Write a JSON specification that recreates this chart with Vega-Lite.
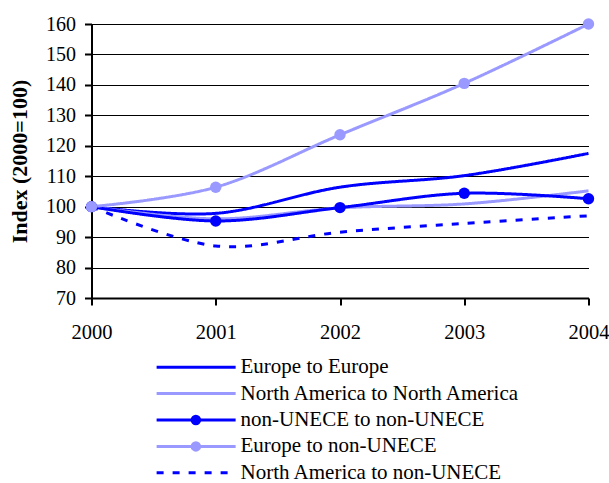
{
  "$schema": "https://vega.github.io/schema/vega-lite/v6.json",
  "padding": {"left": 8.5, "top": 14, "right": 5, "bottom": 5},
  "background": "white",
  "spacing": 11,
  "config": {
    "view": {"stroke": null},
    "font": "Liberation Serif",
    "axis": {"labelColor": "#000", "titleColor": "#000", "labelFont": "Liberation Serif", "titleFont": "Liberation Serif", "labelOverlap": false},
    "axisY": {"labelOverlap": false}
  },
  "resolve": {"scale": {"x": "independent", "y": "independent"}},
  "datasets": {
    "trade": [
      {"year": 2000, "series": "North America to non-UNECE", "value": 100},
      {"year": 2001, "series": "North America to non-UNECE", "value": 87.1},
      {"year": 2002, "series": "North America to non-UNECE", "value": 91.6},
      {"year": 2003, "series": "North America to non-UNECE", "value": 94.5},
      {"year": 2004, "series": "North America to non-UNECE", "value": 97.0},
      {"year": 2000, "series": "Europe to Europe", "value": 100},
      {"year": 2001, "series": "Europe to Europe", "value": 97.8},
      {"year": 2002, "series": "Europe to Europe", "value": 106.4},
      {"year": 2003, "series": "Europe to Europe", "value": 110.2},
      {"year": 2004, "series": "Europe to Europe", "value": 117.5},
      {"year": 2000, "series": "North America to North America", "value": 100},
      {"year": 2001, "series": "North America to North America", "value": 96.0},
      {"year": 2002, "series": "North America to North America", "value": 99.6},
      {"year": 2003, "series": "North America to North America", "value": 100.9},
      {"year": 2004, "series": "North America to North America", "value": 105.2},
      {"year": 2000, "series": "non-UNECE to non-UNECE", "value": 100},
      {"year": 2001, "series": "non-UNECE to non-UNECE", "value": 95.3},
      {"year": 2002, "series": "non-UNECE to non-UNECE", "value": 99.7},
      {"year": 2003, "series": "non-UNECE to non-UNECE", "value": 104.4},
      {"year": 2004, "series": "non-UNECE to non-UNECE", "value": 102.6},
      {"year": 2000, "series": "Europe to non-UNECE", "value": 100},
      {"year": 2001, "series": "Europe to non-UNECE", "value": 106.4},
      {"year": 2002, "series": "Europe to non-UNECE", "value": 123.6},
      {"year": 2003, "series": "Europe to non-UNECE", "value": 140.5},
      {"year": 2004, "series": "Europe to non-UNECE", "value": 160}
    ],
    "series": [
      {"series": "Europe to Europe"},
      {"series": "North America to North America"},
      {"series": "non-UNECE to non-UNECE"},
      {"series": "Europe to non-UNECE"},
      {"series": "North America to non-UNECE"}
    ]
  },
  "vconcat": [
    {
      "width": 497,
      "height": 274,
      "data": {"name": "trade"},
      "encoding": {
        "x": {
          "field": "year", "type": "quantitative",
          "scale": {"domain": [2000, 2004]},
          "axis": {
            "values": [2000, 2001, 2002, 2003, 2004], "format": "d", "title": null,
            "grid": false, "domainColor": "#000", "domainWidth": 2,
            "tickColor": "#000", "tickWidth": 2, "tickSize": 7,
            "labelFont": "Liberation Serif", "labelFontSize": 20.5, "labelPadding": 17, "labelFlush": false,
            "labelOverlap": false, "labelBound": false
          }
        },
        "y": {
          "field": "value", "type": "quantitative",
          "scale": {"domain": [70, 160], "nice": false, "zero": false},
          "axis": {
            "values": [70, 80, 90, 100, 110, 120, 130, 140, 150, 160],
            "title": "Index (2000=100)", "titleFont": "Liberation Serif", "titleFontSize": 22, "titleFontWeight": "bold",
            "titlePadding": 14,
            "grid": true, "gridColor": "#000", "gridWidth": 1,
            "domainColor": "#000", "domainWidth": 2,
            "tickColor": "#000", "tickWidth": 2, "tickSize": 7,
            "labelFont": "Liberation Serif", "labelFontSize": 20, "labelPadding": 9, "labelOverlap": false, "labelSeparation": 0
          }
        },
        "color": {
          "field": "series", "type": "nominal", "legend": null,
          "scale": {
            "domain": ["Europe to Europe", "North America to North America", "non-UNECE to non-UNECE", "Europe to non-UNECE", "North America to non-UNECE"],
            "range": ["#0000ff", "#9999ff", "#0000ff", "#9999ff", "#0000ff"]
          }
        }
      },
      "layer": [
        {
          "mark": {"type": "line", "interpolate": "cardinal", "strokeWidth": 3},
          "encoding": {
            "strokeDash": {
              "field": "series", "type": "nominal", "legend": null,
              "scale": {
                "domain": ["Europe to Europe", "North America to North America", "non-UNECE to non-UNECE", "Europe to non-UNECE", "North America to non-UNECE"],
                "range": [[1, 0], [1, 0], [1, 0], [1, 0], [7, 9]]
              }
            }
          }
        },
        {
          "transform": [{"filter": {"field": "series", "oneOf": ["non-UNECE to non-UNECE", "Europe to non-UNECE"]}}],
          "mark": {"type": "point", "filled": true, "size": 130, "opacity": 1}
        }
      ]
    },
    {
      "width": 497,
      "height": 132,
      "data": {"name": "series"},
      "encoding": {
        "y": {
          "field": "series", "type": "nominal", "axis": null,
          "scale": {
            "type": "point", "padding": 0.5,
            "domain": ["Europe to Europe", "North America to North America", "non-UNECE to non-UNECE", "Europe to non-UNECE", "North America to non-UNECE"]
          }
        }
      },
      "layer": [
        {
          "mark": {"type": "rule", "strokeWidth": 3},
          "encoding": {
            "x": {"datum": 0.131, "type": "quantitative", "scale": {"domain": [0, 1]}, "axis": null},
            "x2": {"datum": 0.29},
            "color": {"field": "series", "type": "nominal", "legend": null},
            "strokeDash": {"field": "series", "type": "nominal", "legend": null}
          }
        },
        {
          "transform": [{"filter": {"field": "series", "oneOf": ["non-UNECE to non-UNECE", "Europe to non-UNECE"]}}],
          "mark": {"type": "point", "filled": true, "size": 110, "opacity": 1},
          "encoding": {
            "x": {"datum": 0.21, "type": "quantitative"},
            "color": {"field": "series", "type": "nominal", "legend": null}
          }
        },
        {
          "mark": {"type": "text", "align": "left", "baseline": "middle", "font": "Liberation Serif", "fontSize": 21, "color": "#000"},
          "encoding": {
            "x": {"datum": 0.2998, "type": "quantitative"},
            "text": {"field": "series"}
          }
        }
      ]
    }
  ]
}
